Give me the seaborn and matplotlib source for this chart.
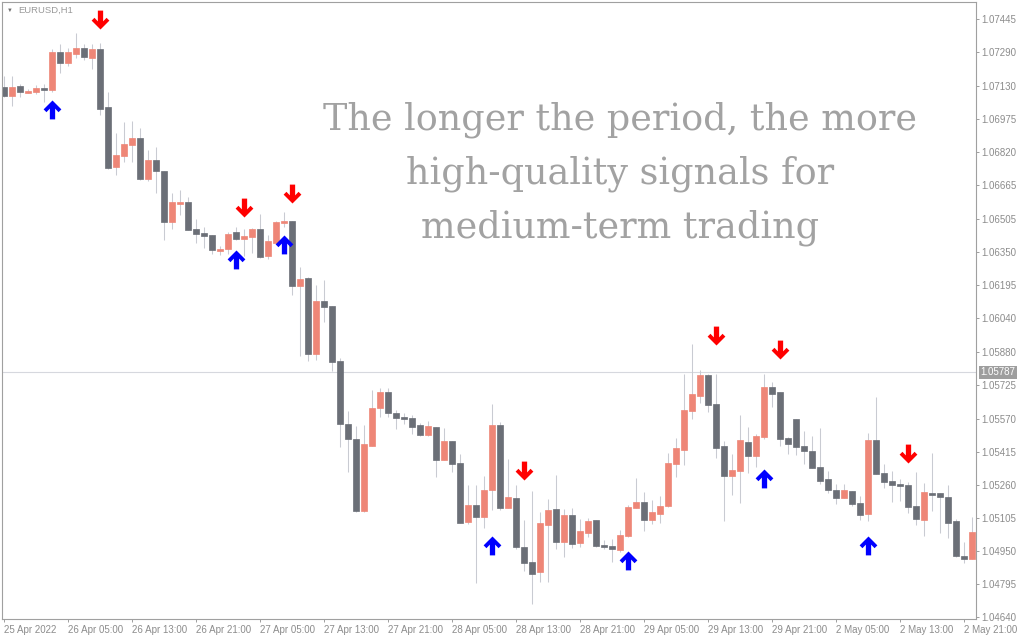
import numpy as np
import pandas as pd
import matplotlib
matplotlib.use("Agg")
import matplotlib.pyplot as plt
from matplotlib.path import Path
from matplotlib.transforms import blended_transform_factory
import seaborn as sns

# EURUSD H1 candles (open / high / low / close)
opens = [
    1.07126, 1.07083, 1.07130, 1.07099, 1.07104, 1.07121, 1.07112, 1.07290, 1.07238, 1.07282,
    1.07309, 1.07263, 1.07304, 1.07032, 1.06752, 1.06803, 1.06854, 1.06886, 1.06695, 1.06783,
    1.06732, 1.06494, 1.06578, 1.06586, 1.06459, 1.06441, 1.06431, 1.06358, 1.06367, 1.06445,
    1.06414, 1.06423, 1.06458, 1.06334, 1.06395, 1.06489, 1.06497, 1.06193, 1.06229, 1.05874,
    1.06121, 1.06098, 1.05840, 1.05544, 1.05475, 1.05136, 1.05442, 1.05619, 1.05694, 1.05594,
    1.05577, 1.05574, 1.05540, 1.05494, 1.05530, 1.05377, 1.05464, 1.05361, 1.05086, 1.05164,
    1.05109, 1.05236, 1.05540, 1.05151, 1.05197, 1.04968, 1.04897, 1.04850, 1.05072, 1.05145,
    1.04992, 1.05117, 1.04987, 1.05034, 1.05094, 1.04978, 1.04973, 1.04954, 1.05019, 1.05151,
    1.05178, 1.05095, 1.05123, 1.05159, 1.05358, 1.05422, 1.05607, 1.05677, 1.05774, 1.05638,
    1.05441, 1.05302, 1.05325, 1.05460, 1.05395, 1.05485, 1.05718, 1.05694, 1.05479, 1.05568,
    1.05441, 1.05418, 1.05342, 1.05286, 1.05234, 1.05198, 1.05230, 1.05173, 1.05123, 1.05469,
    1.05314, 1.05277, 1.05263, 1.05258, 1.05159, 1.05094, 1.05220, 1.05220, 1.05202, 1.05089,
    1.04925, 1.04911,
]
highs = [
    1.07177, 1.07177, 1.07140, 1.07116, 1.07135, 1.07140, 1.07303, 1.07328, 1.07309, 1.07378,
    1.07328, 1.07328, 1.07331, 1.07102, 1.06910, 1.06961, 1.06966, 1.06933, 1.06830, 1.06844,
    1.06734, 1.06628, 1.06642, 1.06610, 1.06506, 1.06469, 1.06433, 1.06381, 1.06445, 1.06469,
    1.06459, 1.06464, 1.06530, 1.06431, 1.06498, 1.06539, 1.06499, 1.06280, 1.06235, 1.06197,
    1.06220, 1.06100, 1.05853, 1.05607, 1.05535, 1.05540, 1.05704, 1.05713, 1.05713, 1.05610,
    1.05597, 1.05586, 1.05550, 1.05557, 1.05532, 1.05525, 1.05466, 1.05403, 1.05258, 1.05258,
    1.05300, 1.05638, 1.05554, 1.05380, 1.05258, 1.05095, 1.05230, 1.05131, 1.05192, 1.05305,
    1.05145, 1.05150, 1.05098, 1.05103, 1.05096, 1.05000, 1.05004, 1.05047, 1.05164, 1.05291,
    1.05225, 1.05188, 1.05206, 1.05408, 1.05479, 1.05779, 1.05920, 1.05798, 1.05779, 1.05779,
    1.05464, 1.05403, 1.05586, 1.05532, 1.05495, 1.05779, 1.05741, 1.05696, 1.05481, 1.05570,
    1.05511, 1.05488, 1.05525, 1.05325, 1.05264, 1.05264, 1.05232, 1.05208, 1.05502, 1.05671,
    1.05356, 1.05325, 1.05288, 1.05272, 1.05319, 1.05267, 1.05408, 1.05222, 1.05258, 1.05098,
    1.04990, 1.05108,
]
lows = [
    1.07080, 1.07038, 1.07080, 1.07096, 1.07093, 1.07057, 1.07104, 1.07193, 1.07226, 1.07263,
    1.07252, 1.07212, 1.06996, 1.06742, 1.06714, 1.06775, 1.06775, 1.06691, 1.06686, 1.06630,
    1.06409, 1.06461, 1.06526, 1.06454, 1.06395, 1.06372, 1.06343, 1.06339, 1.06342, 1.06408,
    1.06334, 1.06348, 1.06325, 1.06320, 1.06389, 1.06470, 1.06150, 1.05865, 1.05841, 1.05845,
    1.06024, 1.05794, 1.05438, 1.05320, 1.05133, 1.05131, 1.05440, 1.05576, 1.05576, 1.05522,
    1.05546, 1.05497, 1.05488, 1.05488, 1.05294, 1.05375, 1.05320, 1.05078, 1.05076, 1.04799,
    1.05058, 1.05142, 1.05142, 1.05149, 1.04959, 1.04856, 1.04701, 1.04804, 1.04804, 1.04959,
    1.04921, 1.04964, 1.04968, 1.05015, 1.04968, 1.04959, 1.04898, 1.04945, 1.05014, 1.05149,
    1.05043, 1.05076, 1.05081, 1.05156, 1.05297, 1.05352, 1.05569, 1.05643, 1.05602, 1.05386,
    1.05090, 1.05212, 1.05175, 1.05316, 1.05344, 1.05475, 1.05625, 1.05442, 1.05405, 1.05400,
    1.05358, 1.05337, 1.05264, 1.05222, 1.05170, 1.05196, 1.05161, 1.05095, 1.05090, 1.05309,
    1.05244, 1.05178, 1.05183, 1.05128, 1.05072, 1.05020, 1.05136, 1.05034, 1.05009, 1.04920,
    1.04893, 1.04909,
]
closes = [
    1.07085, 1.07126, 1.07104, 1.07108, 1.07121, 1.07113, 1.07290, 1.07240, 1.07290, 1.07309,
    1.07268, 1.07304, 1.07024, 1.06747, 1.06805, 1.06858, 1.06886, 1.06695, 1.06783, 1.06733,
    1.06494, 1.06586, 1.06586, 1.06456, 1.06437, 1.06428, 1.06362, 1.06367, 1.06436, 1.06414,
    1.06427, 1.06458, 1.06329, 1.06403, 1.06492, 1.06497, 1.06193, 1.06225, 1.05874, 1.06121,
    1.06095, 1.05837, 1.05546, 1.05475, 1.05136, 1.05450, 1.05619, 1.05694, 1.05597, 1.05574,
    1.05569, 1.05532, 1.05494, 1.05535, 1.05377, 1.05464, 1.05358, 1.05081, 1.05164, 1.05109,
    1.05234, 1.05540, 1.05151, 1.05202, 1.04968, 1.04893, 1.04842, 1.05080, 1.05141, 1.04992,
    1.05117, 1.04982, 1.05042, 1.05089, 1.04973, 1.04968, 1.04959, 1.05023, 1.05155, 1.05178,
    1.05095, 1.05131, 1.05159, 1.05361, 1.05432, 1.05610, 1.05685, 1.05774, 1.05635, 1.05433,
    1.05302, 1.05328, 1.05469, 1.05395, 1.05488, 1.05718, 1.05686, 1.05475, 1.05450, 1.05438,
    1.05419, 1.05339, 1.05278, 1.05236, 1.05198, 1.05234, 1.05170, 1.05119, 1.05469, 1.05311,
    1.05273, 1.05259, 1.05255, 1.05155, 1.05098, 1.05225, 1.05211, 1.05203, 1.05080, 1.04925,
    1.04912, 1.05037,
]

# Signal arrows: bar index and arrow tip price
buy_bars = [6, 29, 35, 61, 78, 95, 108]
buy_prices = [1.07065, 1.06361, 1.06431, 1.05019, 1.04948, 1.05333, 1.05019]
sell_bars = [12, 30, 36, 65, 89, 97, 113]
sell_prices = [1.07397, 1.06514, 1.06580, 1.05281, 1.05915, 1.05848, 1.05363]

current_price = 1.05787
current_label = "1.05787"

time_labels = [
    "25 Apr 2022", "26 Apr 05:00", "26 Apr 13:00", "26 Apr 21:00", "27 Apr 05:00",
    "27 Apr 13:00", "27 Apr 21:00", "28 Apr 05:00", "28 Apr 13:00", "28 Apr 21:00",
    "29 Apr 05:00", "29 Apr 13:00", "29 Apr 21:00", "2 May 05:00", "2 May 13:00",
    "2 May 21:00",
]
time_label_bars = [0, 8, 16, 24, 32, 40, 48, 56, 64, 72, 80, 88, 96, 104, 112, 120]

price_ticks = [1.07445, 1.07290, 1.07130, 1.06975, 1.06820, 1.06665, 1.06505, 1.06350,
               1.06195, 1.06040, 1.05880, 1.05725, 1.05570, 1.05415, 1.05260, 1.05105,
               1.04950, 1.04795, 1.04640]
price_tick_labels = ["1.07445", "1.07290", "1.07130", "1.06975", "1.06820", "1.06665",
                     "1.06505", "1.06350", "1.06195", "1.06040", "1.05880", "1.05725",
                     "1.05570", "1.05415", "1.05260", "1.05105", "1.04950", "1.04795",
                     "1.04640"]

symbol_label = "EURUSD,H1"
caption_lines = ["The longer the period, the more",
                 "high-quality signals for",
                 "medium-term trading"]

# ---------------------------------------------------------------- styling
sns.set_theme(style="white")
plt.rcParams["font.family"] = ["Liberation Sans", "DejaVu Sans"]

BULL = "#EE8677"
BEAR = "#6B6F77"
WICK = "#C9CBD2"
FRAME = "#A0A0A0"
TEXT = "#8C8C8C"

df = pd.DataFrame({"bar": np.arange(len(opens)), "open": opens, "high": highs,
                   "low": lows, "close": closes})
df["up"] = df["close"] >= df["open"]
df["body_lo"] = df[["open", "close"]].min(axis=1)
df["body_h"] = (df["close"] - df["open"]).abs()

W, H = 1024, 640
fig = plt.figure(figsize=(W / 100, H / 100), dpi=100, facecolor="white")
ax = fig.add_axes([2 / W, 21 / H, 974 / W, 617 / H])
ax.set_facecolor("white")

# wicks, then bodies
ax.vlines(df["bar"], df["low"], df["high"], color=WICK, linewidth=0.75, zorder=1)
body_colors = np.where(df["up"], BULL, BEAR)
ax.bar(df["bar"], df["body_h"], bottom=df["body_lo"], width=0.76,
       color=body_colors, edgecolor=body_colors, linewidth=0.5, zorder=2)

# arrow glyphs with the tip at the anchor point
down_verts = [(-0.14, 1.0), (0.14, 1.0), (0.14, 0.43), (0.32, 0.62), (0.47, 0.47),
              (0.0, 0.0), (-0.47, 0.47), (-0.32, 0.62), (-0.14, 0.43), (-0.14, 1.0)]
codes = [Path.MOVETO] + [Path.LINETO] * (len(down_verts) - 2) + [Path.CLOSEPOLY]
down_arrow = Path(down_verts, codes)
up_arrow = Path([(x, -y) for x, y in down_verts], codes)

sns.scatterplot(x=sell_bars, y=sell_prices, marker=down_arrow, s=740,
                color="#FF0000", linewidth=0, ax=ax, zorder=4)
sns.scatterplot(x=buy_bars, y=buy_prices, marker=up_arrow, s=740,
                color="#0000FF", linewidth=0, ax=ax, zorder=4)

# current price line and its tag on the price scale
ax.axhline(current_price, color="#D6D8DE", linewidth=0.8, zorder=0.5)
trans = blended_transform_factory(ax.transAxes, ax.transData)
ax.text(1.0045, current_price, current_label, transform=trans, ha="left", va="center",
        fontsize=7.0, color="white", zorder=5, clip_on=False,
        bbox=dict(boxstyle="square,pad=0.18", fc="#9E9E9E", ec="none"))

# axes
ax.set_xlim(-0.25, 121.5)
ax.set_ylim(1.04629, 1.07525)
ax.yaxis.tick_right()
ax.set_yticks(price_ticks)
ax.set_yticklabels(price_tick_labels)
ax.set_xticks(time_label_bars)
ax.set_xticklabels(time_labels)
for lab in ax.get_xticklabels():
    lab.set_horizontalalignment("left")
ax.tick_params(axis="both", which="both", length=2.3, width=0.72, color=FRAME,
               labelsize=7.0, labelcolor=TEXT, direction="out")
ax.tick_params(axis="x", pad=2.0, bottom=True)
ax.tick_params(axis="y", pad=1.5, right=True, left=False)
for side in ["left", "right", "top", "bottom"]:
    ax.spines[side].set_visible(True)
    ax.spines[side].set_color(FRAME)
    ax.spines[side].set_linewidth(0.8)
ax.grid(False)

# symbol header
fig.text(9.5 / W, 1 - 10 / H, "▼", fontsize=4.2, color="#707070",
         ha="center", va="center")
fig.text(18 / W, 1 - 10 / H, symbol_label, fontsize=6.8, color="#9A9A9A",
         ha="left", va="center")

# caption
for line, base in zip(caption_lines, [130, 184, 238]):
    fig.text(620 / W, 1 - base / H, line, fontsize=26.3, color="#A2A2A2",
             family="DejaVu Serif", ha="center", va="baseline")

fig.savefig("out.png", dpi=100, facecolor="white")
